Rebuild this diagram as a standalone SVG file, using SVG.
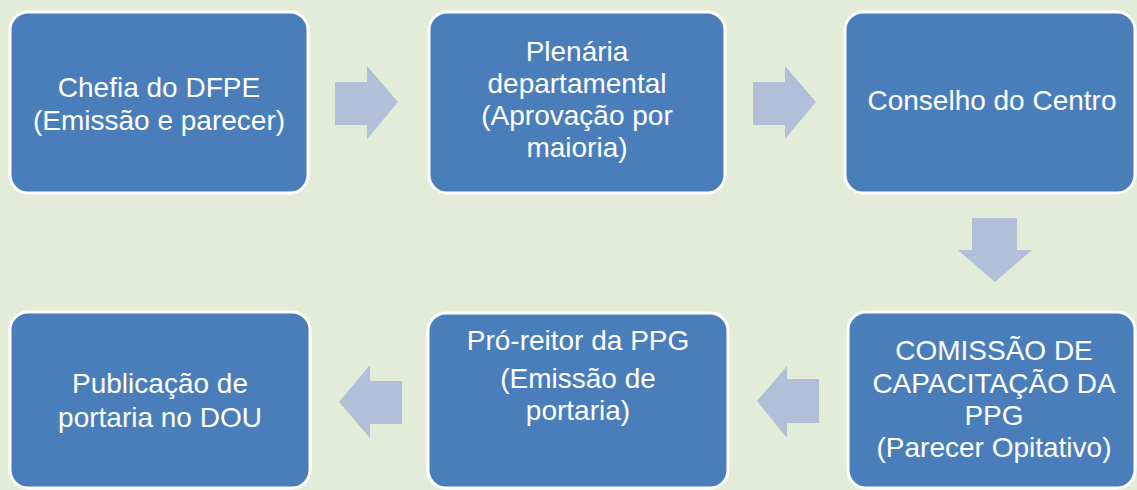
<svg xmlns="http://www.w3.org/2000/svg" width="1137" height="490" viewBox="0 0 1137 490">
  <style>
    .box { fill: #4a7ebb; stroke: #ffffff; stroke-width: 3; }
    .arrow { fill: #b2bfd9; }
    .t { font-family: "Liberation Sans", Arial, sans-serif; font-size: 28px; fill: #ffffff; text-anchor: middle; }
  </style>
  <rect width="1137" height="490" fill="#e2ecd8"/>
  <g id="connectors">
    <polygon class="arrow" points="335,82 367,82 367,66 398,102 367,139 367,125 335,125"/>
    <polygon class="arrow" points="753,82 785,82 785,66 816,102 785,139 785,125 753,125"/>
    <polygon class="arrow" points="972,218 1017,218 1017,250 1032,250 995,282 958,250 972,250"/>
    <polygon class="arrow" points="819,379 787,379 787,366 757,401 787,438 787,423 819,423"/>
    <polygon class="arrow" points="402,381 370,381 370,365 339,402 370,438 370,424 402,424"/>
  </g>
  <g id="node-chefia">
    <rect class="box" x="10" y="12" width="298" height="181" rx="18"/>
    <text class="t" x="159" y="97">Chefia do DFPE</text>
    <text class="t" x="159" y="130">(Emissão e parecer)</text>
  </g>
  <g id="node-plenaria">
    <rect class="box" x="429" y="12" width="296" height="181" rx="18"/>
    <text class="t" x="577" y="61">Plenária</text>
    <text class="t" x="577" y="93">departamental</text>
    <text class="t" x="577" y="125">(Aprovação por</text>
    <text class="t" x="577" y="157">maioria)</text>
  </g>
  <g id="node-conselho">
    <rect class="box" x="845" y="12" width="290" height="181" rx="18"/>
    <text class="t" x="992" y="110">Conselho do Centro</text>
  </g>
  <g id="node-comissao">
    <rect class="box" x="848" y="312" width="287" height="176" rx="18"/>
    <text class="t" x="994" y="360">COMISSÃO DE</text>
    <text class="t" x="994" y="393">CAPACITAÇÃO DA</text>
    <text class="t" x="994" y="425">PPG</text>
    <text class="t" x="994" y="457">(Parecer Opitativo)</text>
  </g>
  <g id="node-proreitor">
    <rect class="box" x="428" y="313" width="300" height="175" rx="18"/>
    <text class="t" x="578" y="350">Pró-reitor da PPG</text>
    <text class="t" x="578" y="388">(Emissão de</text>
    <text class="t" x="578" y="420">portaria)</text>
  </g>
  <g id="node-publicacao">
    <rect class="box" x="10" y="312" width="300" height="176" rx="18"/>
    <text class="t" x="160" y="393">Publicação de</text>
    <text class="t" x="160" y="427">portaria no DOU</text>
  </g>
</svg>
